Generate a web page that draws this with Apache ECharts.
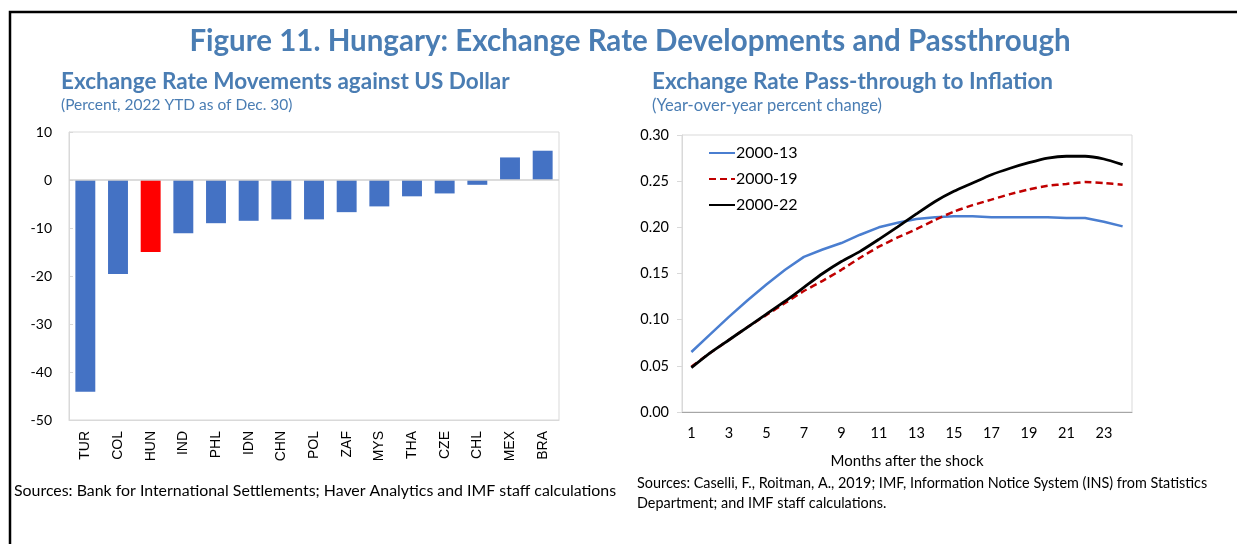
<!DOCTYPE html>
<html>
<head>
<meta charset="utf-8">
<script src="https://cdn.jsdelivr.net/npm/echarts@6/dist/echarts.min.js"></script>
<style>
  html, body { margin: 0; padding: 0; background: #fff; }
  #chart { width: 1237px; height: 544px; }
</style>
</head>
<body>
<div id="chart"></div>
<script>
// left panel: 2022 YTD change vs USD
const countries = ['TUR', 'COL', 'HUN', 'IND', 'PHL', 'IDN', 'CHN', 'POL', 'ZAF', 'MYS', 'THA', 'CZE', 'CHL', 'MEX', 'BRA']
const fxChange = [-44.1, -19.6, -15.0, -11.1, -9.0, -8.5, -8.2, -8.2, -6.7, -5.5, -3.4, -2.8, -1.0, 4.7, 6.1]
const barTicks = [10, 0, -10, -20, -30, -40, -50]

// right panel: pass-through by months after shock
const months = ['1', '2', '3', '4', '5', '6', '7', '8', '9', '10', '11', '12',
  '13', '14', '15', '16', '17', '18', '19', '20', '21', '22', '23', '24']
const pt2013 = [0.065, 0.084, 0.103, 0.121, 0.138, 0.154, 0.168, 0.176, 0.183, 0.192, 0.200, 0.205,
  0.209, 0.211, 0.212, 0.212, 0.211, 0.211, 0.211, 0.211, 0.210, 0.210, 0.206, 0.201]
const pt2019 = [0.049, 0.064, 0.078, 0.092, 0.105, 0.118, 0.131, 0.142, 0.154, 0.167, 0.179, 0.189,
  0.198, 0.208, 0.217, 0.224, 0.230, 0.236, 0.241, 0.245, 0.247, 0.249, 0.248, 0.246]
const pt2022 = [0.048, 0.064, 0.078, 0.092, 0.106, 0.120, 0.135, 0.150, 0.163, 0.174, 0.187, 0.2005,
  0.2145, 0.228, 0.239, 0.248, 0.257, 0.264, 0.270, 0.275, 0.277, 0.277, 0.274, 0.268]

const titleBlue = '#4a7db3'
const font = 'Lato, "Open Sans", sans-serif'

const chart = echarts.init(document.getElementById('chart'), null, { renderer: 'canvas' })

chart.setOption({
  backgroundColor: '#fff',
  animation: false,
  textStyle: { fontFamily: font },
  title: [
    {
      text: 'Figure 11. Hungary: Exchange Rate Developments and Passthrough',
      left: 630, top: 26, textAlign: 'center', padding: 0,
      textStyle: { color: titleBlue, fontSize: 29.5, fontWeight: 'bold', fontFamily: font }
    },
    {
      text: 'Exchange Rate Movements against US Dollar',
      left: 61, top: 70, padding: 0,
      textStyle: { color: titleBlue, fontSize: 22.5, fontWeight: 'bold', fontFamily: font }
    },
    {
      text: '(Percent, 2022 YTD as of Dec. 30)',
      left: 61, top: 97, padding: 0,
      textStyle: { color: titleBlue, fontSize: 15.5, fontWeight: 'normal', fontFamily: font }
    },
    {
      text: 'Exchange Rate Pass-through to Inflation',
      left: 652, top: 70, padding: 0,
      textStyle: { color: titleBlue, fontSize: 22.5, fontWeight: 'bold', fontFamily: font }
    },
    {
      text: '(Year-over-year percent change)',
      left: 652, top: 97, padding: 0,
      textStyle: { color: titleBlue, fontSize: 16.5, fontWeight: 'normal', fontFamily: font }
    },
    {
      text: 'Sources: Bank for International Settlements; Haver Analytics and IMF staff calculations',
      left: 14, top: 483, padding: 0,
      textStyle: { color: '#000', fontSize: 15.9, fontWeight: 'normal', fontFamily: font }
    },
    {
      text: 'Sources: Caselli, F., Roitman, A., 2019; IMF, Information Notice System (INS) from Statistics\nDepartment; and IMF staff calculations.',
      left: 637, top: 473, padding: 0,
      textStyle: { color: '#000', fontSize: 14.4, fontWeight: 'normal', lineHeight: 20, fontFamily: font }
    }
  ],
  graphic: [
    {
      type: 'polyline',
      shape: { points: [[10, 544], [10, 12], [1237, 12]] },
      style: { stroke: '#000', lineWidth: 2.5, fill: null }
    }
  ],
  legend: {
    left: 708, top: 145, orient: 'vertical', itemGap: 10, padding: 0,
    itemWidth: 26, itemHeight: 14,
    itemStyle: { opacity: 0 },
    data: ['2000-13', '2000-19', '2000-22'],
    textStyle: { fontSize: 16, color: '#000', padding: [0, 0, 0, -4], fontFamily: font }
  },
  grid: [
    { left: 69, top: 132, width: 490, height: 288, show: true, borderColor: '#d9d9d9', borderWidth: 1 },
    { left: 682, top: 135, width: 450, height: 277, show: true, borderColor: '#d9d9d9', borderWidth: 1 }
  ],
  xAxis: [
    {
      gridIndex: 0, type: 'category', data: countries,
      axisLine: { onZero: false, lineStyle: { color: '#d9d9d9' } },
      axisTick: { show: false },
      axisLabel: { rotate: 90, margin: 11, fontSize: 14, color: '#000', fontFamily: 'Liberation Sans, Arial, sans-serif' }
    },
    {
      gridIndex: 1, type: 'category', data: months, boundaryGap: true,
      name: 'Months after the shock', nameLocation: 'middle', nameGap: 42,
      nameTextStyle: { fontSize: 15, color: '#000' },
      axisLine: { lineStyle: { color: '#a6a6a6' } },
      axisTick: { inside: true, length: 5, lineStyle: { color: '#a6a6a6' } },
      axisLabel: { interval: 1, margin: 14, fontSize: 14.5, color: '#000' }
    }
  ],
  yAxis: [
    {
      gridIndex: 0, type: 'value', min: -50, max: 10, interval: 10,
      axisLine: { show: true, lineStyle: { color: '#d9d9d9' } },
      axisTick: { show: true, inside: true, length: 4, lineStyle: { color: '#d9d9d9' } },
      splitLine: { show: false },
      axisLabel: { margin: 17, fontSize: 14, color: '#000',
        formatter: (v) => barTicks.includes(v) ? String(v) : '' }
    },
    {
      gridIndex: 1, type: 'value', min: 0, max: 0.3, interval: 0.05,
      axisLine: { show: true, lineStyle: { color: '#d9d9d9' } },
      axisTick: { show: true, length: 5, lineStyle: { color: '#d9d9d9' } },
      splitLine: { show: false },
      axisLabel: { margin: 13, fontSize: 14.5, color: '#000', formatter: (v) => v.toFixed(2) }
    }
  ],
  series: [
    {
      type: 'bar', xAxisIndex: 0, yAxisIndex: 0, barWidth: '61%',
      data: fxChange.map((v, i) => ({
        value: v,
        itemStyle: { color: countries[i] === 'HUN' ? '#ff0000' : '#4472c4' }
      })),
      markLine: {
        silent: true, symbol: 'none', label: { show: false },
        lineStyle: { color: '#d0d0d0', type: 'solid', width: 1.5 },
        data: [{ yAxis: 0 }]
      }
    },
    {
      name: '2000-13', type: 'line', xAxisIndex: 1, yAxisIndex: 1, data: pt2013,
      showSymbol: false, symbol: 'none', color: '#4a7ed0',
      lineStyle: { color: '#4a7ed0', width: 2.5 }
    },
    {
      name: '2000-19', type: 'line', xAxisIndex: 1, yAxisIndex: 1, data: pt2019, smooth: 0.2,
      showSymbol: false, symbol: 'none', color: '#c00000',
      lineStyle: { color: '#c00000', width: 2.5, type: [7, 4] }
    },
    {
      name: '2000-22', type: 'line', xAxisIndex: 1, yAxisIndex: 1, data: pt2022, smooth: 0.2,
      showSymbol: false, symbol: 'none', color: '#000',
      lineStyle: { color: '#000', width: 2.8 }
    }
  ]
})
</script>
</body>
</html>
